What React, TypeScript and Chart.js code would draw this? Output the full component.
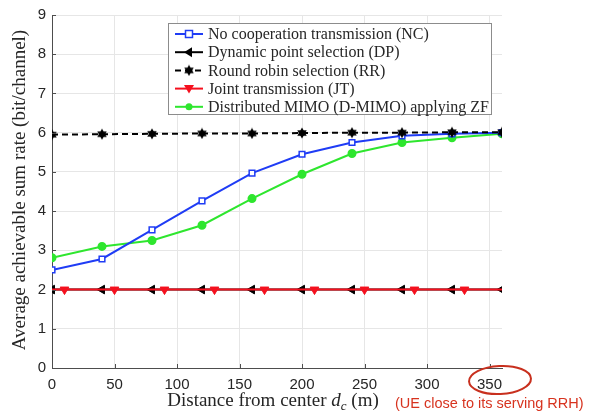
import React, { useEffect, useRef } from "react";
import { Chart, registerables } from "chart.js";

Chart.register(...registerables);

const xValues = [0, 40, 80, 120, 160, 200, 240, 280, 320, 360];
const ncValues = [2.5, 2.78, 3.52, 4.26, 4.97, 5.45, 5.75, 5.92, 5.97, 6.0];
const dpValues = [2, 2, 2, 2, 2, 2, 2, 2, 2, 2];
const rrValues = [5.95, 5.96, 5.97, 5.98, 5.98, 5.99, 6.0, 6.0, 6.01, 6.01];
const jtX = [0, 10, 50, 90, 130, 170, 210, 250, 290, 330, 360];
const jtValues = [2, 2, 2, 2, 2, 2, 2, 2, 2, 2, 2];
const dmValues = [2.81, 3.1, 3.25, 3.64, 4.32, 4.94, 5.47, 5.75, 5.87, 5.97];
const xTicks = [0, 50, 100, 150, 200, 250, 300, 350];
const yTicks = [0, 1, 2, 3, 4, 5, 6, 7, 8, 9];
const legendLabels = [
  "No cooperation transmission (NC)",
  "Dynamic point selection (DP)",
  "Round robin selection (RR)",
  "Joint transmission (JT)",
  "Distributed MIMO (D-MIMO) applying ZF",
];

const BLUE = "#1f3cf5";
const BLACK = "#000000";
const RED = "#f5101e";
const GREEN = "#2ee62e";
const SERIF = "'Liberation Serif', 'DejaVu Serif', serif";
const SANS = "'Liberation Sans', Arial, sans-serif";

function makeHexagram(size: number, color: string) {
  const c = document.createElement("canvas");
  c.width = size;
  c.height = size;
  const g = c.getContext("2d")!;
  const cx = size / 2, cy = size / 2, r = size / 2 - 0.5;
  g.fillStyle = color;
  for (const rot of [-Math.PI / 2, Math.PI / 2]) {
    g.beginPath();
    for (let i = 0; i < 3; i++) {
      const a = rot + (i * 2 * Math.PI) / 3;
      const px = cx + r * Math.cos(a), py = cy + r * Math.sin(a);
      if (i === 0) g.moveTo(px, py); else g.lineTo(px, py);
    }
    g.closePath();
    g.fill();
  }
  return c;
}

function drawMarker(ctx: CanvasRenderingContext2D, kind: string, x: number, y: number, color: string, hex: HTMLCanvasElement) {
  ctx.save();
  ctx.strokeStyle = color;
  ctx.fillStyle = color;
  ctx.lineWidth = 1.5;
  if (kind === "square") {
    ctx.fillStyle = "#ffffff";
    ctx.fillRect(x - 3.5, y - 3.5, 7, 7);
    ctx.strokeRect(x - 3.5, y - 3.5, 7, 7);
  } else if (kind === "left") {
    ctx.beginPath();
    ctx.moveTo(x - 5, y);
    ctx.lineTo(x + 3, y - 5);
    ctx.lineTo(x + 3, y + 5);
    ctx.closePath();
    ctx.fill();
  } else if (kind === "down") {
    ctx.beginPath();
    ctx.moveTo(x - 5, y - 3.5);
    ctx.lineTo(x + 5, y - 3.5);
    ctx.lineTo(x, y + 5);
    ctx.closePath();
    ctx.fill();
  } else if (kind === "circle") {
    ctx.beginPath();
    ctx.arc(x, y, 3.5, 0, Math.PI * 2);
    ctx.fill();
  } else if (kind === "hex") {
    ctx.drawImage(hex, x - hex.width / 2, y - hex.height / 2);
  }
  ctx.restore();
}

export default function App() {
  const ref = useRef<HTMLCanvasElement>(null);
  useEffect(() => {
    document.body.style.margin = "0";
    const hex = makeHexagram(12, BLACK);
    const toPts = (xs: number[], ys: number[]) => xs.map((x, i) => ({ x, y: ys[i] }));

    const overlay = {
      id: "overlay",
      afterDraw(chart: any) {
        const ctx: CanvasRenderingContext2D = chart.ctx;
        const area = chart.chartArea;
        const xs = chart.scales.x, ys = chart.scales.y;
        ctx.save();
        // inward ticks
        ctx.strokeStyle = "#4d4d4d";
        ctx.lineWidth = 1;
        ctx.beginPath();
        for (const t of xTicks) {
          const px = Math.round(xs.getPixelForValue(t)) + 0.5;
          ctx.moveTo(px, area.bottom);
          ctx.lineTo(px, area.bottom - 4);
        }
        for (const t of yTicks) {
          const py = Math.round(ys.getPixelForValue(t)) + 0.5;
          ctx.moveTo(area.left, py);
          ctx.lineTo(area.left + 4, py);
        }
        ctx.stroke();

        // legend
        const lx = 168, ly = 23, lw = 323, lh = 91;
        ctx.fillStyle = "#ffffff";
        ctx.fillRect(lx, ly, lw, lh);
        ctx.strokeStyle = "#8c8c8c";
        ctx.lineWidth = 1;
        ctx.strokeRect(lx + 0.5, ly + 0.5, lw, lh);
        const colors = [BLUE, BLACK, BLACK, RED, GREEN];
        const kinds = ["square", "left", "hex", "down", "circle"];
        const dashes = [[], [], [6, 4], [], []];
        ctx.font = `16px ${SERIF}`;
        ctx.textBaseline = "middle";
        for (let i = 0; i < 5; i++) {
          const y = ly + 11 + i * 18.2;
          ctx.strokeStyle = colors[i];
          ctx.lineWidth = 2;
          ctx.setLineDash(dashes[i]);
          ctx.beginPath();
          ctx.moveTo(175, y);
          ctx.lineTo(203, y);
          ctx.stroke();
          ctx.setLineDash([]);
          drawMarker(ctx, kinds[i], 189, y, colors[i], hex);
          ctx.fillStyle = "#262626";
          ctx.fillText(legendLabels[i], 208, y + 1);
        }

        // y title
        ctx.save();
        ctx.translate(20, 190);
        ctx.rotate(-Math.PI / 2);
        ctx.font = `19px ${SERIF}`;
        ctx.fillStyle = "#262626";
        ctx.textAlign = "center";
        ctx.textBaseline = "middle";
        ctx.fillText("Average achievable sum rate (bit/channel)", 0, 0);
        ctx.restore();

        // x title with subscript
        const yT = 406;
        ctx.fillStyle = "#262626";
        ctx.textBaseline = "alphabetic";
        ctx.textAlign = "left";
        const p1 = "Distance from center ";
        const p3 = " (m)";
        ctx.font = `19px ${SERIF}`;
        const w1 = ctx.measureText(p1).width;
        const w3 = ctx.measureText(p3).width;
        ctx.font = `italic 19px ${SERIF}`;
        const wd = ctx.measureText("d").width;
        ctx.font = `italic 13px ${SERIF}`;
        const wc = ctx.measureText("c").width;
        const total = w1 + wd + wc + w3;
        let cx = 273 - total / 2;
        ctx.font = `19px ${SERIF}`;
        ctx.fillText(p1, cx, yT); cx += w1;
        ctx.font = `italic 19px ${SERIF}`;
        ctx.fillText("d", cx, yT); cx += wd;
        ctx.font = `italic 13px ${SERIF}`;
        ctx.fillText("c", cx, yT + 4); cx += wc;
        ctx.font = `19px ${SERIF}`;
        ctx.fillText(p3, cx, yT);

        // annotation
        ctx.font = `14.5px ${SANS}`;
        ctx.fillStyle = "#d7331f";
        ctx.fillText("(UE close to its serving RRH)", 395, 408);

        // ellipse around 350
        ctx.strokeStyle = "#c8301e";
        ctx.lineWidth = 2;
        ctx.beginPath();
        ctx.ellipse(500, 380, 31, 14, -0.05, 0, Math.PI * 2);
        ctx.stroke();
        ctx.restore();
      },
    };

    const chart = new Chart(ref.current!, {
      type: "line",
      data: {
        datasets: [
          {
            label: legendLabels[1],
            data: toPts(xValues, dpValues),
            borderColor: BLACK,
            backgroundColor: BLACK,
            borderWidth: 2,
            pointStyle: "triangle",
            rotation: -90,
            pointRadius: 5,
            pointBorderWidth: 1,
            order: 4,
          },
          {
            label: legendLabels[3],
            data: toPts(jtX, jtValues),
            borderColor: RED,
            backgroundColor: RED,
            borderWidth: 2,
            pointStyle: "triangle",
            rotation: 180,
            pointRadius: (c: any) => (c.dataIndex === 0 || c.dataIndex === jtX.length - 1 ? 0 : 5),
            pointBorderWidth: 1,
            order: 3,
          },
          {
            label: legendLabels[4],
            data: toPts(xValues, dmValues),
            borderColor: GREEN,
            backgroundColor: GREEN,
            borderWidth: 2,
            pointStyle: "circle",
            pointRadius: 3.5,
            order: 2,
          },
          {
            label: legendLabels[0],
            data: toPts(xValues, ncValues),
            borderColor: BLUE,
            backgroundColor: "#ffffff",
            borderWidth: 2,
            pointStyle: "rect",
            pointRadius: 4,
            pointBorderWidth: 1.5,
            order: 1,
          },
          {
            label: legendLabels[2],
            data: toPts(xValues, rrValues),
            borderColor: BLACK,
            backgroundColor: BLACK,
            borderWidth: 2,
            borderDash: [6, 4],
            pointStyle: hex as any,
            order: 0,
          },
        ],
      },
      options: {
        animation: false,
        responsive: false,
        maintainAspectRatio: false,
        layout: { padding: { left: 0, right: 94, top: 14, bottom: 0 } },
        plugins: { legend: { display: false }, tooltip: { enabled: false } },
        elements: { line: { tension: 0 } },
        scales: {
          x: {
            type: "linear",
            min: 0,
            max: 360,
            afterBuildTicks: (s: any) => {
              s.ticks = xTicks.map((v) => ({ value: v }));
            },
            afterFit: (s: any) => {
              s.height = 52;
            },
            grid: { color: "#e6e6e6", drawTicks: false, lineWidth: 1 },
            border: { color: "#4d4d4d", width: 1 },
            ticks: {
              padding: 8,
              color: "#262626",
              font: { family: SANS, size: 15 },
              maxRotation: 0,
            },
          },
          y: {
            type: "linear",
            min: 0,
            max: 9,
            afterBuildTicks: (s: any) => {
              s.ticks = yTicks.map((v) => ({ value: v }));
            },
            afterFit: (s: any) => {
              s.width = 52;
            },
            grid: { color: "#e6e6e6", drawTicks: false, lineWidth: 1 },
            border: { color: "#4d4d4d", width: 1 },
            ticks: {
              padding: 6,
              color: "#262626",
              font: { family: SANS, size: 15 },
            },
          },
        },
      },
      plugins: [overlay],
    } as any);
    return () => chart.destroy();
  }, []);

  return (
    <div style={{ position: "fixed", left: 0, top: 0, width: 596, height: 420, background: "#fff" }}>
      <canvas ref={ref} width={596} height={420} style={{ width: 596, height: 420 }} />
    </div>
  );
}
